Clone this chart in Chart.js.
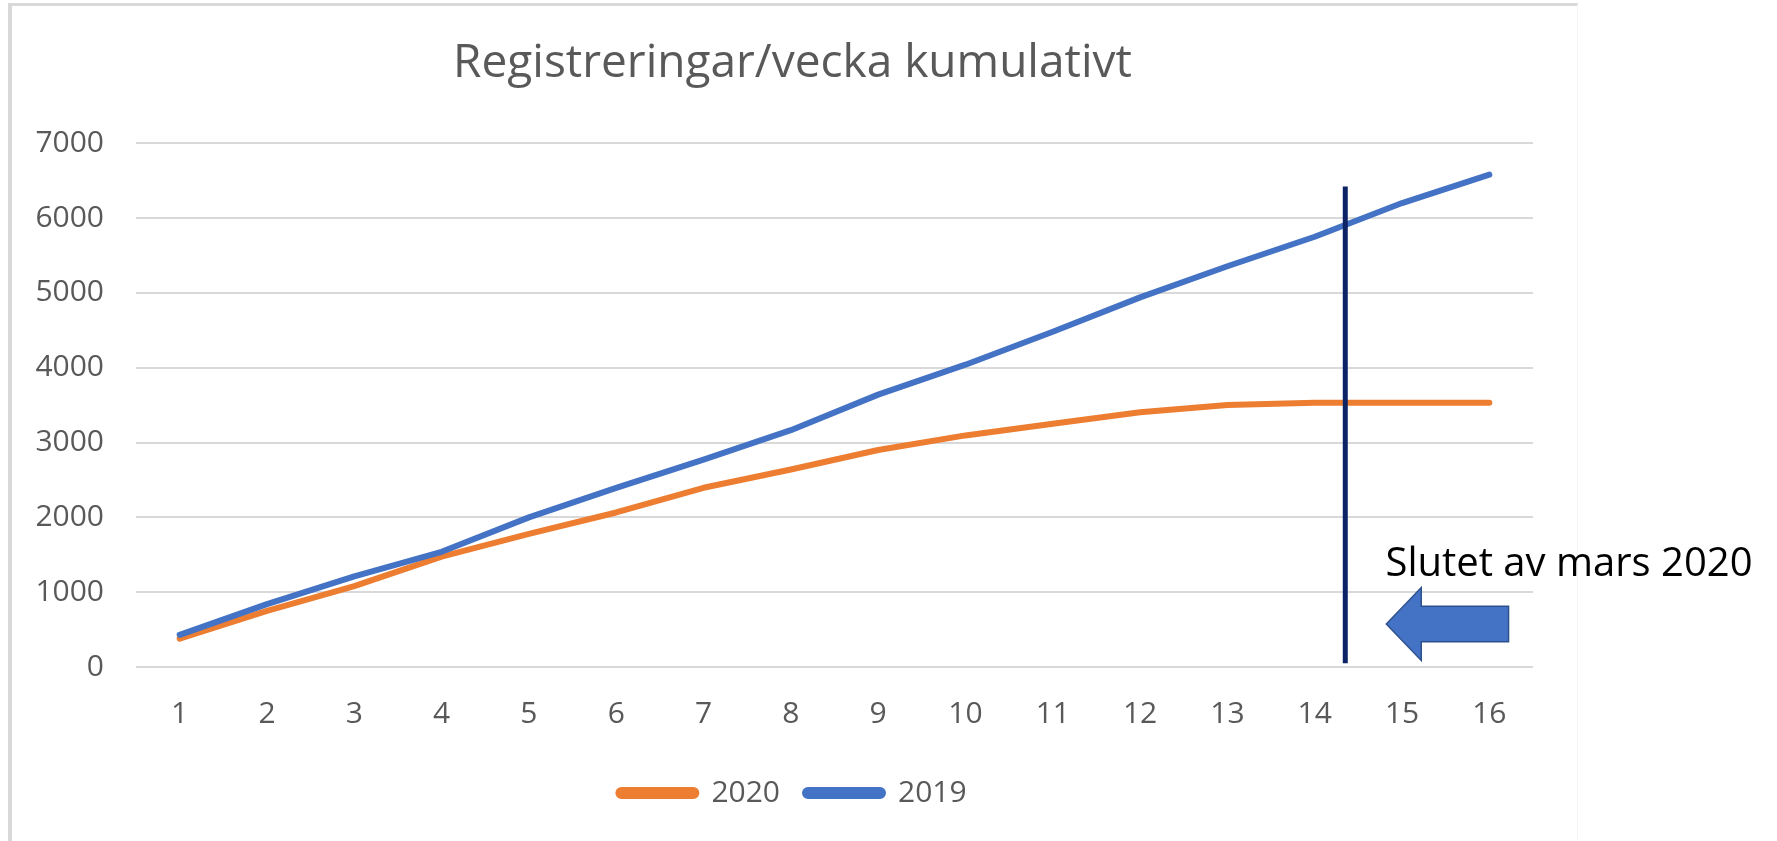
<!DOCTYPE html>
<html lang="sv">
  <head>
    <meta charset="UTF-8" />
    <title>Registreringar/vecka kumulativt</title>
    <script src="https://cdn.jsdelivr.net/npm/chart.js@4.4.1/dist/chart.umd.min.js"></script>
    <style>
      html,
      body {
        margin: 0;
        padding: 0;
        background: #fff;
      }

      #wrap {
        position: relative;
        width: 1777px;
        height: 841px;
        overflow: hidden;
      }

      /* light frame of the chart object */
      #frame {
        position: absolute;
        left: 8px;
        top: 3px;
        width: 1565px;
        height: 900px;
        border-left: 4px solid #d9d9d9;
        border-top: 3px solid #d9d9d9;
        border-right: 1px solid #f6f6f6;
      }

      #chart {
        position: absolute;
        left: 0;
        top: 0;
      }
    </style>
  </head>
  <body>
    <div id="wrap">
      <div id="frame"></div>
      <canvas id="chart" width="1777" height="841"></canvas>
    </div>
    <script>
      const weeks = ['1', '2', '3', '4', '5', '6', '7', '8', '9', '10', '11', '12', '13', '14', '15', '16']
      const reg2020 = [380, 750, 1080, 1475, 1780, 2065, 2395, 2640, 2900, 3095, 3250, 3405, 3500, 3530, 3530, 3530]
      const reg2019 = [430, 840, 1210, 1540, 2000, 2395, 2770, 3165, 3640, 4040, 4480, 4940, 5355, 5750, 6200, 6580]
      const yTicks = [0, 1000, 2000, 3000, 4000, 5000, 6000, 7000]

      const noteText = 'Slutet av mars 2020'

      const gray = '#595959'
      const font = 'Open Sans'

      // vertical marker + arrow + note, placed in data units
      const marchMarker = {
        id: 'marchMarker',
        afterDatasetsDraw(chart) {
          const ctx = chart.ctx
          const x = chart.scales.x
          const y = chart.scales.y

          ctx.save()
          ctx.strokeStyle = '#0c2366'
          ctx.lineWidth = 5
          ctx.beginPath()
          ctx.moveTo(x.getPixelForValue(13.35), y.getPixelForValue(6420))
          ctx.lineTo(x.getPixelForValue(13.35), y.getPixelForValue(50))
          ctx.stroke()

          const pts = [
            [13.82, 575],
            [14.22, 1062],
            [14.22, 812],
            [15.22, 812],
            [15.22, 338],
            [14.22, 338],
            [14.22, 88]
          ]
          ctx.beginPath()
          pts.forEach((p, i) => {
            const px = x.getPixelForValue(p[0])
            const py = y.getPixelForValue(p[1])
            if (i === 0) ctx.moveTo(px, py)
            else ctx.lineTo(px, py)
          })
          ctx.closePath()
          ctx.fillStyle = '#4472c4'
          ctx.fill()
          ctx.strokeStyle = '#2f528f'
          ctx.lineWidth = 1.5
          ctx.stroke()

          ctx.fillStyle = '#000'
          ctx.font = `40px "${font}"`
          ctx.textAlign = 'left'
          ctx.textBaseline = 'alphabetic'
          ctx.fillText(noteText, x.getPixelForValue(13.81), y.getPixelForValue(1220))
          ctx.restore()
        }
      }

      new Chart(document.getElementById('chart'), {
        type: 'line',
        data: {
          labels: weeks,
          datasets: [
            {
              label: '2020',
              data: reg2020,
              borderColor: '#ed7d31',
              backgroundColor: '#ed7d31',
              order: 1
            },
            {
              label: '2019',
              data: reg2019,
              borderColor: '#4472c4',
              backgroundColor: '#4472c4',
              order: 0
            }
          ]
        },
        options: {
          responsive: false,
          animation: false,
          layout: { padding: { left: 0, right: 192, top: 0, bottom: 23 } },
          elements: {
            line: { borderWidth: 6, borderCapStyle: 'round', borderJoinStyle: 'round', tension: 0 },
            point: { radius: 0 }
          },
          plugins: {
            title: {
              display: true,
              text: 'Registreringar/vecka kumulativt',
              color: gray,
              font: { family: font, size: 46, weight: 'normal' },
              padding: { top: 36, bottom: 52 }
            },
            legend: {
              position: 'bottom',
              labels: {
                color: gray,
                font: { family: font, size: 30 },
                boxWidth: 78,
                boxHeight: 6,
                useBorderRadius: true,
                borderRadius: 3,
                padding: 25,
                sort: (a, b) => a.datasetIndex - b.datasetIndex
              }
            },
            tooltip: { enabled: false }
          },
          scales: {
            x: {
              offset: true,
              grid: { display: false },
              border: { display: false },
              ticks: { color: gray, font: { family: font, size: 30 }, padding: 21, maxRotation: 0 }
            },
            y: {
              min: 0,
              max: 7000,
              afterFit: s => {
                s.width = 136
              },
              afterBuildTicks: s => {
                s.ticks = yTicks.map(v => ({ value: v }))
              },
              grid: { color: '#d9d9d9', lineWidth: 2, drawTicks: false },
              border: { display: false },
              ticks: { color: gray, font: { family: font, size: 30 }, padding: 32, callback: v => v }
            },
            // empty right axis, only keeps the plot off the right edge
            spacer: {
              position: 'right',
              afterFit: s => {
                s.width = 52
              },
              grid: { display: false },
              border: { display: false },
              ticks: { display: false }
            }
          }
        },
        plugins: [marchMarker]
      })
    </script>
  </body>
</html>
